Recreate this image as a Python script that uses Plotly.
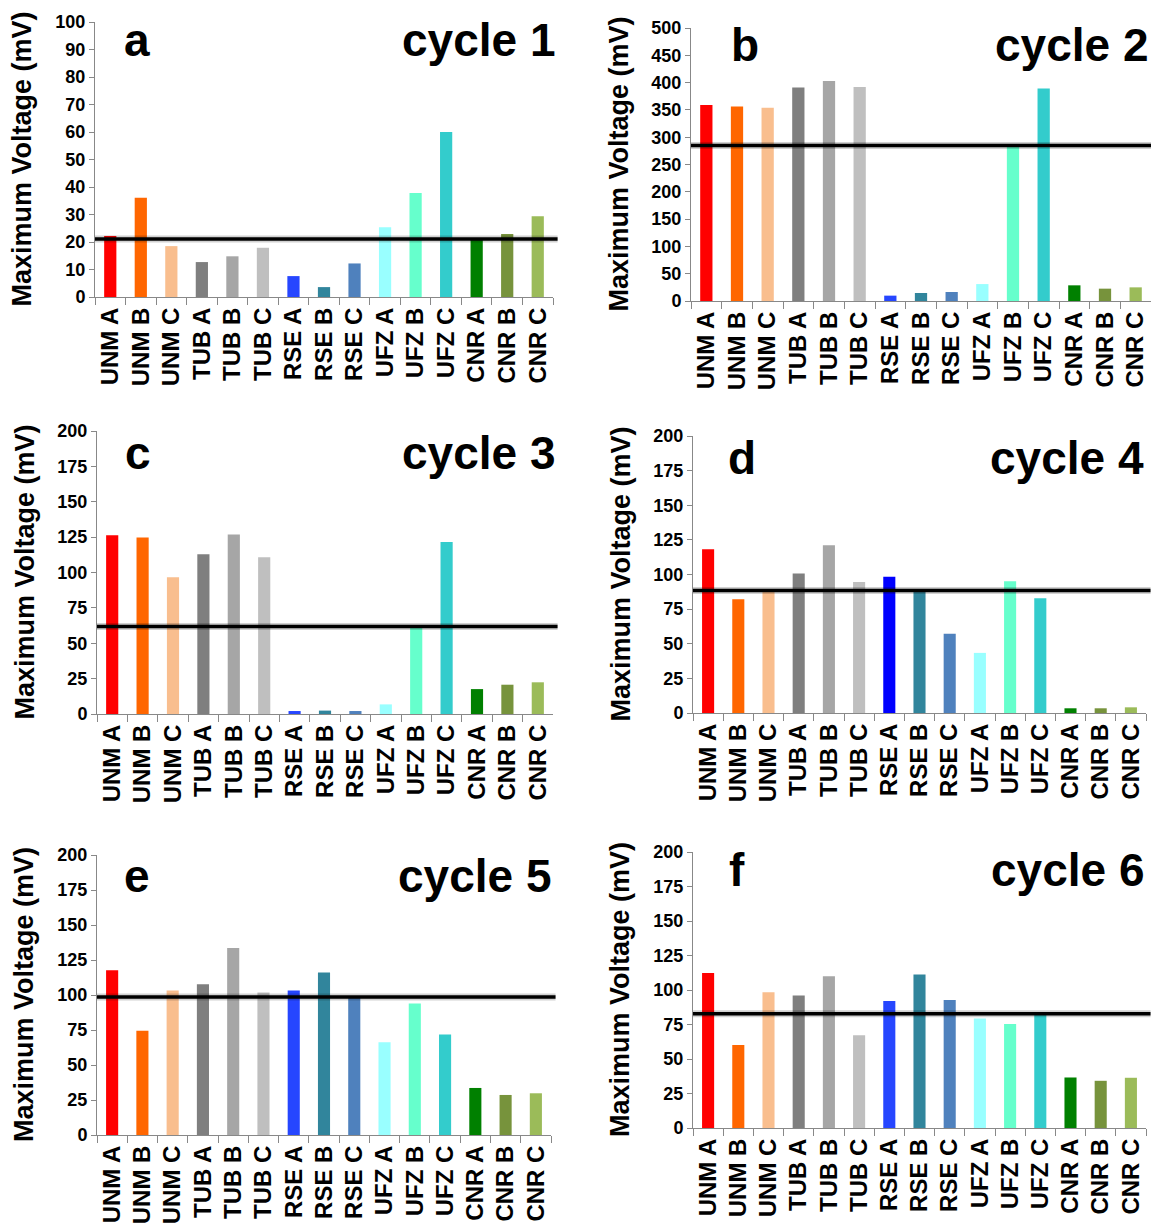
import plotly.graph_objects as go

categories = ["UNM A", "UNM B", "UNM C", "TUB A", "TUB B", "TUB C",
              "RSE A", "RSE B", "RSE C", "UFZ A", "UFZ B", "UFZ C",
              "CNR A", "CNR B", "CNR C"]

cycle1 = [22.2, 36.1, 18.5, 12.7, 14.8, 17.9, 7.6, 3.6, 12.2, 25.4, 37.8, 60.0, 21.0, 22.9, 29.4]
cycle2 = [359, 356, 354, 391, 403, 392, 9.8, 14.7, 16.5, 31, 285, 389, 28.7, 22.6, 25]
cycle3 = [126.4, 124.7, 96.7, 112.9, 126.8, 110.8, 2.1, 2.4, 2.1, 6.8, 62, 121.6, 17.6, 20.7, 22.4]
cycle4 = [118.3, 82.2, 88, 100.7, 121.2, 94.5, 98.3, 88, 57.3, 43.4, 95.2, 82.9, 3.4, 3.4, 4.1]
cycle5 = [117.6, 74.5, 103.3, 107.6, 133.6, 101.7, 103.3, 116, 98.8, 66.2, 94, 71.7, 33.6, 28.6, 29.8]
cycle6 = [112.3, 60.2, 98.3, 96.1, 109.9, 67.2, 92, 111.3, 92.8, 79.3, 75.4, 82.6, 36.6, 34.2, 36.4]

reference_lines = [21.1, 285, 61.9, 88.4, 98.6, 82.7]
panel_letters = ["a", "b", "c", "d", "e", "f"]
panel_titles = ["cycle 1", "cycle 2", "cycle 3", "cycle 4", "cycle 5", "cycle 6"]
y_max = [100, 500, 200, 200, 200, 200]
y_step = [10, 50, 25, 25, 25, 25]

colors = ["#FF0000", "#FF6600", "#F9BE8E", "#7F7F7F", "#A6A6A6", "#BFBFBF",
          "#2646FF", "#31859C", "#4F81BD", "#99FFFF", "#66FFCC", "#33CCCC",
          "#008000", "#77933C", "#9BBB59"]
colors_d = colors[:6] + ["#0000FF"] + colors[7:]

W, H = 1151, 1230
# pixel boxes of plot areas: (x0, x1, ytop, ybottom)
boxes = [(95, 553, 22, 297), (691, 1151, 28, 301),
         (97, 553, 431, 714), (693, 1146, 436, 713),
         (97, 551, 855, 1135), (693, 1146, 852, 1128)]
letter_pos = [(137, 40), (745, 45), (138, 453), (742, 458), (137, 876), (737, 870)]
title_right = [557, 1150, 557, 1146, 553, 1146]

all_data = [cycle1, cycle2, cycle3, cycle4, cycle5, cycle6]

FONT = "Liberation Sans, Arial, sans-serif"
fig = go.Figure()
layout = dict(width=W, height=H, margin=dict(l=0, r=0, t=0, b=0),
              plot_bgcolor="white", paper_bgcolor="white", showlegend=False,
              bargap=0.6, font=dict(family=FONT, color="black"))
shapes = []
annotations = []

for i, data in enumerate(all_data):
    n = "" if i == 0 else str(i + 1)
    x0, x1, yt, yb = boxes[i]
    xd = [x0 / W, x1 / W]
    yd = [1 - yb / H, 1 - yt / H]
    fig.add_trace(go.Bar(x=categories, y=data,
                         marker=dict(color=colors_d if i == 3 else colors, line=dict(width=0)),
                         xaxis="x" + n, yaxis="y" + n))
    layout["xaxis" + n] = dict(domain=xd, anchor="y" + n, tickangle=-90, automargin=False,
                               showline=True, linecolor="#888888", linewidth=1,
                               ticks="outside", tickson="boundaries", ticklen=7,
                               tickcolor="#888888",
                               tickfont=dict(size=24, weight="bold", family=FONT, color="black"),
                               showgrid=False, fixedrange=True)
    layout["yaxis" + n] = dict(domain=yd, anchor="x" + n, range=[0, y_max[i]], automargin=False,
                               dtick=y_step[i], showline=True, linecolor="#888888",
                               linewidth=1, ticks="outside", ticklen=5, tickcolor="#888888",
                               tickfont=dict(size=18, weight="bold", family=FONT, color="black"),
                               showgrid=False, zeroline=False, fixedrange=True)
    # shadow and threshold line
    shapes.append(dict(type="line", xref="x" + n + " domain", yref="y" + n,
                       x0=0, x1=1.01, y0=reference_lines[i], y1=reference_lines[i],
                       line=dict(color="rgba(0,0,0,0.18)", width=7)))
    shapes.append(dict(type="line", xref="x" + n + " domain", yref="y" + n,
                       x0=0, x1=1.01, y0=reference_lines[i], y1=reference_lines[i],
                       line=dict(color="black", width=3.5)))
    lx, ly = letter_pos[i]
    annotations.append(dict(text=panel_letters[i], x=lx / W, y=1 - ly / H,
                            xref="paper", yref="paper", showarrow=False,
                            xanchor="center", yanchor="middle",
                            font=dict(size=46, weight="bold", family=FONT, color="black")))
    annotations.append(dict(text=panel_titles[i], x=title_right[i] / W, y=1 - ly / H,
                            xref="paper", yref="paper", showarrow=False,
                            xanchor="right", yanchor="middle",
                            font=dict(size=46, weight="bold", family=FONT, color="black")))
    annotations.append(dict(text="Maximum Voltage (mV)", x=(x0 - 73) / W,
                            y=1 - (yt + yb) / 2 / H, xref="paper", yref="paper",
                            showarrow=False, textangle=-90, xanchor="center", yanchor="middle",
                            font=dict(size=27, weight="bold", family=FONT, color="black")))

layout["shapes"] = shapes
layout["annotations"] = annotations
fig.update_layout(**layout)
fig.write_html("out.html", config={"displayModeBar": False},
               post_script="document.body.style.margin='0';document.body.style.padding='0';"
                           "document.body.style.overflow='hidden';")
